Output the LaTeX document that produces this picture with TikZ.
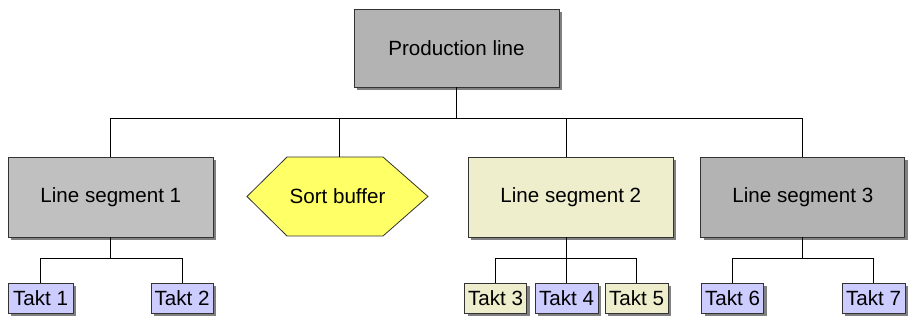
\documentclass[tikz,border=0pt]{standalone}
\usepackage{fontspec}
\setmainfont{Liberation Sans}
\usetikzlibrary{shadows,calc}

\definecolor{boxgray}{HTML}{B3B3B3}
\definecolor{boxlight}{HTML}{C0C0C0}
\definecolor{boxcream}{HTML}{EEEECC}
\definecolor{boxyellow}{HTML}{FFFF66}
\definecolor{boxlilac}{HTML}{CCCCFF}
\definecolor{shadowgray}{HTML}{808080}

\tikzset{
  labelfont/.style={font=\fontsize{20.6}{24}\selectfont},
  boxshadow/.style={drop shadow={shadow xshift=3pt, shadow yshift=-3pt, fill=shadowgray, opacity=1}},
  bigbox/.style={draw=black!80, line width=0.8pt, boxshadow, minimum width=205pt, minimum height=80pt,
                 inner sep=0pt, labelfont},
  taktbox/.style={draw=black!80, line width=0.8pt, boxshadow, minimum width=63pt, minimum height=30pt,
                  inner sep=0pt, labelfont},
  link/.style={draw=black, line width=1pt},
}

\begin{document}
\begin{tikzpicture}[x=1pt, y=-1pt]
  \useasboundingbox (0,0) rectangle (909,323);

  % top level
  \node[bigbox, fill=boxgray, minimum height=78pt] (prod) at (456.5,48) {Production line};

  % second level
  \node[bigbox, fill=boxlight] (ls1) at (110.8,197) {Line segment 1};
  \node[bigbox, fill=boxcream] (ls2) at (570.8,197) {Line segment 2};
  \node[bigbox, fill=boxgray, minimum width=204pt] (ls3) at (802.8,197) {Line segment 3};

  % sort buffer hexagon
  \coordinate (bufc) at (337.5,196.5);
  \filldraw[fill=boxyellow, draw=black!80, line width=0.8pt]
    ($(bufc)+(-90.5,0)$) -- ($(bufc)+(-50.5,-39.5)$) -- ($(bufc)+(45.5,-39.5)$)
    -- ($(bufc)+(90.5,0)$) -- ($(bufc)+(45.5,39.5)$) -- ($(bufc)+(-50.5,39.5)$) -- cycle;
  \node[labelfont, inner sep=0pt, minimum height=79pt, minimum width=181pt] (buf) at (bufc) {Sort buffer};

  % third level
  \node[taktbox, fill=boxlilac, minimum width=65pt] (t1) at (40.5,298) {Takt 1};
  \node[taktbox, fill=boxlilac, minimum width=62pt] (t2) at (182,298) {Takt 2};
  \node[taktbox, fill=boxcream, minimum width=62pt] (t3) at (495.5,298) {Takt 3};
  \node[taktbox, fill=boxlilac, minimum width=63pt] (t4) at (566.5,298) {Takt 4};
  \node[taktbox, fill=boxcream, minimum width=63pt] (t5) at (636.5,298) {Takt 5};
  \node[taktbox, fill=boxlilac, minimum width=62pt] (t6) at (732.5,298) {Takt 6};
  \node[taktbox, fill=boxlilac, minimum width=63pt] (t7) at (873.5,298) {Takt 7};

  % connectors: top level to second level
  \draw[link] (prod.south) -- ++(0,31) coordinate (j0);
  \draw[link] (j0) -| (ls1.north);
  \draw[link] (j0) -| ([xshift=1.5pt]buf.north);
  \draw[link] (j0) -| ([xshift=-4.3pt]ls2.north);
  \draw[link] (j0) -| (ls3.north);

  % connectors: second level to takts
  \draw[link] (ls1.south) -- ++(0,21) coordinate (j1);
  \draw[link] (j1) -| (t1.north);
  \draw[link] (j1) -| (t2.north);

  \draw[link] ([xshift=-4.3pt]ls2.south) -- ++(0,21) coordinate (j2);
  \draw[link] (j2) -| (t3.north);
  \draw[link] (j2) -| (t4.north);
  \draw[link] (j2) -| (t5.north);

  \draw[link] (ls3.south) -- ++(0,21) coordinate (j3);
  \draw[link] (j3) -| (t6.north);
  \draw[link] (j3) -| (t7.north);
\end{tikzpicture}
\end{document}
